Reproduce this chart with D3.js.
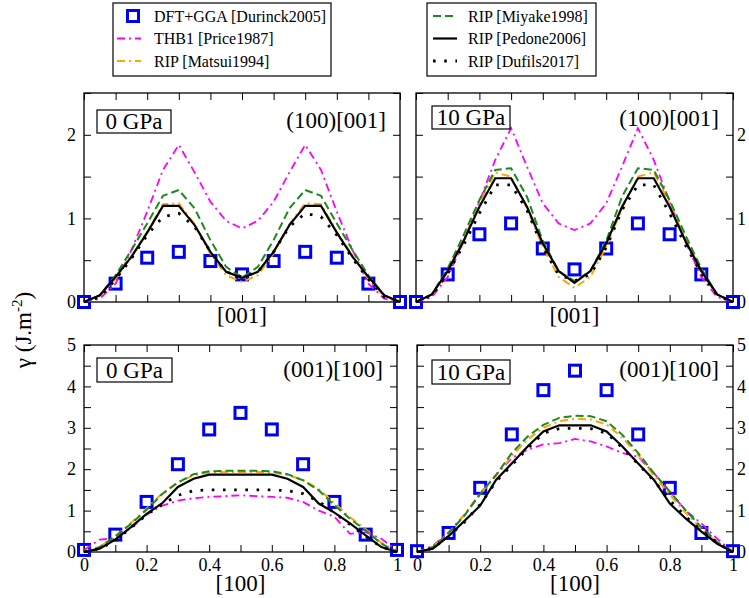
<!DOCTYPE html>
<html>
<head>
<meta charset="utf-8">
<script src="https://cdn.jsdelivr.net/npm/d3@7"></script>
<style>
body { margin: 0; background: #fff; }
svg { display: block; }
</style>
</head>
<body>
<div id="chart"></div>
<script>
// fine grid used by the potential curves, coarse grid for the DFT points
const xFine = [0, 0.05, 0.1, 0.15, 0.2, 0.25, 0.3, 0.35, 0.4, 0.45, 0.5, 0.55, 0.6, 0.65, 0.7, 0.75, 0.8, 0.85, 0.9, 0.95, 1];
const xDft = [0, 0.1, 0.2, 0.3, 0.4, 0.5, 0.6, 0.7, 0.8, 0.9, 1];

// ticks
const xTicks = [0, 0.1, 0.2, 0.3, 0.4, 0.5, 0.6, 0.7, 0.8, 0.9, 1];
const xTickLabels = [0, 0.2, 0.4, 0.6, 0.8, 1];
const yTicksTop = [0, 0.5, 1, 1.5, 2, 2.5];
const yLabelsTop = [0, 1, 2];
const yTicksBottom = [0, 0.5, 1, 1.5, 2, 2.5, 3, 3.5, 4, 4.5, 5];
const yLabelsBottom = [0, 1, 2, 3, 4, 5];

// (100)[001], 0 GPa
const tl_dft    = [0, 0.22, 0.53, 0.60, 0.49, 0.33, 0.49, 0.60, 0.53, 0.22, 0];
const tl_price  = [0, 0.04, 0.22, 0.62, 1.08, 1.58, 1.88, 1.55, 1.20, 0.97, 0.88, 0.97, 1.20, 1.55, 1.88, 1.58, 1.08, 0.62, 0.22, 0.04, 0];
const tl_matsui = [0, 0.07, 0.28, 0.55, 0.84, 1.17, 1.18, 0.93, 0.58, 0.32, 0.24, 0.32, 0.58, 0.93, 1.18, 1.17, 0.84, 0.55, 0.28, 0.07, 0];
const tl_miyake = [0, 0.08, 0.32, 0.62, 0.94, 1.27, 1.34, 1.12, 0.74, 0.42, 0.29, 0.42, 0.74, 1.12, 1.34, 1.27, 0.94, 0.62, 0.32, 0.08, 0];
const tl_pedone = [0, 0.08, 0.30, 0.54, 0.83, 1.15, 1.15, 0.92, 0.60, 0.36, 0.29, 0.36, 0.60, 0.92, 1.15, 1.15, 0.83, 0.54, 0.30, 0.08, 0];
const tl_dufils = [0, 0.06, 0.27, 0.52, 0.80, 1.02, 1.06, 0.90, 0.60, 0.36, 0.30, 0.36, 0.60, 0.90, 1.06, 1.02, 0.80, 0.52, 0.27, 0.06, 0];

// (100)[001], 10 GPa
const tr_dft    = [0, 0.33, 0.81, 0.94, 0.64, 0.39, 0.64, 0.94, 0.81, 0.33, 0];
const tr_price  = [0, 0.06, 0.30, 0.72, 1.20, 1.70, 2.08, 1.62, 1.18, 0.94, 0.86, 0.94, 1.18, 1.62, 2.08, 1.70, 1.20, 0.72, 0.30, 0.06, 0];
const tr_matsui = [0, 0.09, 0.38, 0.75, 1.18, 1.55, 1.50, 1.12, 0.66, 0.30, 0.17, 0.30, 0.66, 1.12, 1.50, 1.55, 1.18, 0.75, 0.38, 0.09, 0];
const tr_miyake = [0, 0.09, 0.40, 0.80, 1.22, 1.58, 1.60, 1.26, 0.73, 0.37, 0.25, 0.37, 0.73, 1.26, 1.60, 1.58, 1.22, 0.80, 0.40, 0.09, 0];
const tr_pedone = [0, 0.09, 0.37, 0.73, 1.14, 1.48, 1.48, 1.14, 0.70, 0.37, 0.23, 0.37, 0.70, 1.14, 1.48, 1.48, 1.14, 0.73, 0.37, 0.09, 0];
const tr_dufils = [0, 0.08, 0.34, 0.68, 1.06, 1.40, 1.40, 1.10, 0.65, 0.33, 0.25, 0.33, 0.65, 1.10, 1.40, 1.40, 1.06, 0.68, 0.34, 0.08, 0];

// (001)[100], 0 GPa
const bl_dft    = [0.05, 0.42, 1.21, 2.12, 2.96, 3.36, 2.96, 2.12, 1.21, 0.42, 0.05];
const bl_price  = [0.05, 0.30, 0.33, 0.58, 0.90, 1.12, 1.24, 1.30, 1.33, 1.35, 1.37, 1.35, 1.33, 1.31, 1.21, 1.00, 0.85, 0.44, 0.48, 0.32, 0.04];
const bl_matsui = [0, 0.12, 0.38, 0.70, 1.05, 1.42, 1.68, 1.85, 1.92, 1.93, 1.93, 1.93, 1.92, 1.86, 1.74, 1.52, 1.18, 0.84, 0.55, 0.22, 0];
const bl_miyake = [0, 0.12, 0.38, 0.68, 1.02, 1.40, 1.68, 1.88, 1.95, 1.96, 1.96, 1.96, 1.95, 1.88, 1.73, 1.49, 1.13, 0.80, 0.52, 0.20, 0];
const bl_pedone = [0, 0.08, 0.30, 0.60, 0.92, 1.18, 1.57, 1.77, 1.87, 1.87, 1.87, 1.87, 1.87, 1.77, 1.57, 1.17, 0.95, 0.69, 0.40, 0.12, 0];
const bl_dufils = [0, 0.08, 0.28, 0.58, 0.90, 1.15, 1.37, 1.48, 1.50, 1.50, 1.50, 1.50, 1.50, 1.48, 1.41, 1.22, 0.95, 0.66, 0.38, 0.12, 0];

// (001)[100], 10 GPa
const br_dft    = [0.02, 0.46, 1.55, 2.84, 3.91, 4.38, 3.91, 2.84, 1.55, 0.46, 0.02];
const br_price  = [0, 0.15, 0.48, 0.90, 1.42, 1.86, 2.27, 2.47, 2.60, 2.63, 2.73, 2.67, 2.55, 2.39, 2.30, 1.90, 1.46, 1.00, 0.69, 0.32, 0];
const br_matsui = [0, 0.12, 0.45, 0.90, 1.40, 1.84, 2.32, 2.72, 3.00, 3.16, 3.22, 3.20, 3.08, 2.76, 2.34, 1.84, 1.38, 0.95, 0.55, 0.22, 0];
const br_miyake = [0, 0.12, 0.45, 0.88, 1.40, 1.86, 2.39, 2.79, 3.07, 3.24, 3.29, 3.28, 3.16, 2.83, 2.39, 1.90, 1.46, 1.01, 0.60, 0.24, 0];
const br_pedone = [0, 0.08, 0.38, 0.75, 1.12, 1.74, 2.14, 2.55, 2.91, 3.06, 3.06, 3.06, 2.91, 2.55, 2.14, 1.74, 1.17, 0.81, 0.49, 0.20, 0];
const br_dufils = [0, 0.09, 0.38, 0.72, 1.15, 1.70, 2.10, 2.50, 2.87, 2.98, 2.99, 2.98, 2.87, 2.52, 2.12, 1.72, 1.25, 0.86, 0.52, 0.22, 0];

const seriesNames = ['DFT+GGA [Durinck2005]', 'THB1 [Price1987]', 'RIP [Matsui1994]', 'RIP [Miyake1998]', 'RIP [Pedone2006]', 'RIP [Dufils2017]'];

const width = 749;
const height = 598;
const serif = '"Liberation Serif", "Times New Roman", serif';
const blue = '#0000f0';

const lineStyles = {
    price:  {color: '#ff00ff', dash: '8,4,2,4', width: 1.8},
    matsui: {color: '#ffa500', dash: '8,4,2,4', width: 2},
    miyake: {color: '#1d8a1d', dash: '8,4', width: 2},
    pedone: {color: '#000000', dash: null, width: 2.2},
    dufils: {color: '#000000', dash: '2.6,8.6', width: 2.8}
};

const panels = [
    {x0: 84, x1: 400, y0: 93, y1: 302, ymax: 2.5, yTicks: yTicksTop, yLabels: yLabelsTop, side: 'left', xLab: false,
     title: '[001]', titleY: 323, gpa: '0 GPa', box: [97, 110, 74, 23], plane: '(100)[001]', planeY: 128,
     dft: tl_dft, price: tl_price, matsui: tl_matsui, miyake: tl_miyake, pedone: tl_pedone, dufils: tl_dufils},
    {x0: 416, x1: 733, y0: 93, y1: 302, ymax: 2.5, yTicks: yTicksTop, yLabels: yLabelsTop, side: 'right', xLab: false,
     title: '[001]', titleY: 323, gpa: '10 GPa', box: [432, 106, 78, 23], plane: '(100)[001]', planeY: 126,
     dft: tr_dft, price: tr_price, matsui: tr_matsui, miyake: tr_miyake, pedone: tr_pedone, dufils: tr_dufils},
    {x0: 84, x1: 397, y0: 345, y1: 552, ymax: 5, yTicks: yTicksBottom, yLabels: yLabelsBottom, side: 'left', xLab: true,
     title: '[100]', titleY: 591, gpa: '0 GPa', box: [97, 358, 75, 24], plane: '(001)[100]', planeY: 377,
     dft: bl_dft, price: bl_price, matsui: bl_matsui, miyake: bl_miyake, pedone: bl_pedone, dufils: bl_dufils},
    {x0: 417, x1: 733, y0: 345, y1: 552, ymax: 5, yTicks: yTicksBottom, yLabels: yLabelsBottom, side: 'right', xLab: true,
     title: '[100]', titleY: 591, gpa: '10 GPa', box: [432, 360, 78, 24], plane: '(001)[100]', planeY: 377,
     dft: br_dft, price: br_price, matsui: br_matsui, miyake: br_miyake, pedone: br_pedone, dufils: br_dufils}
];

const svg = d3.select('#chart')
    .append('svg')
        .attr('width', width)
        .attr('height', height);

const fmt = d3.format('~g');

const styleAxis = g => {
    g.select('.domain').remove();
    g.selectAll('.tick line').attr('stroke', '#000').attr('stroke-width', 1);
    g.selectAll('.tick text')
        .style('font-family', serif)
        .style('font-size', '18px')
        .attr('fill', '#000');
};

const drawPanel = p => {
    const x = d3.scaleLinear().domain([0, 1]).range([p.x0, p.x1]);
    const y = d3.scaleLinear().domain([0, p.ymax]).range([p.y1, p.y0]);
    const g = svg.append('g');

    const xFmt = d => (p.xLab && xTickLabels.includes(d)) ? fmt(d) : '';
    const yFmtOn = d => p.yLabels.includes(d) ? fmt(d) : '';

    g.append('g').attr('transform', `translate(0,${p.y1})`)
        .call(d3.axisBottom(x).tickValues(xTicks).tickSize(-7).tickPadding(6).tickFormat(xFmt))
        .call(styleAxis);
    g.append('g').attr('transform', `translate(0,${p.y0})`)
        .call(d3.axisTop(x).tickValues(xTicks).tickSize(-7).tickFormat(''))
        .call(styleAxis);
    g.append('g').attr('transform', `translate(${p.x0},0)`)
        .call(d3.axisLeft(y).tickValues(p.yTicks).tickSize(-7).tickPadding(8)
            .tickFormat(p.side === 'left' ? yFmtOn : ''))
        .call(styleAxis);
    g.append('g').attr('transform', `translate(${p.x1},0)`)
        .call(d3.axisRight(y).tickValues(p.yTicks).tickSize(-7).tickPadding(4)
            .tickFormat(p.side === 'right' ? yFmtOn : ''))
        .call(styleAxis);

    g.append('rect')
        .attr('x', p.x0).attr('y', p.y0)
        .attr('width', p.x1 - p.x0).attr('height', p.y1 - p.y0)
        .attr('fill', 'none')
        .attr('stroke', '#000')
        .attr('stroke-width', 1.3);

    // DFT squares
    g.selectAll('rect.dft')
        .data(p.dft.map((v, i) => ({x: xDft[i], y: v})))
        .join('rect')
            .attr('class', 'dft')
            .attr('x', d => x(d.x) - 5.5)
            .attr('y', d => y(d.y) - 5.5)
            .attr('width', 11)
            .attr('height', 11)
            .attr('fill', 'none')
            .attr('stroke', blue)
            .attr('stroke-width', 3);

    const line = d3.line().x(d => x(d.x)).y(d => y(d.y));
    ['price', 'matsui', 'miyake', 'pedone', 'dufils'].forEach(k => {
        const s = lineStyles[k];
        g.append('path')
            .datum(p[k].map((v, i) => ({x: xFine[i], y: v})))
            .attr('d', line)
            .attr('fill', 'none')
            .attr('stroke', s.color)
            .attr('stroke-width', s.width)
            .attr('stroke-dasharray', s.dash);
    });

    // pressure box
    g.append('rect')
        .attr('x', p.box[0]).attr('y', p.box[1])
        .attr('width', p.box[2]).attr('height', p.box[3])
        .attr('fill', '#fff')
        .attr('stroke', '#000')
        .attr('stroke-width', 1.2);
    g.append('text')
        .attr('x', p.box[0] + p.box[2] / 2)
        .attr('y', p.box[1] + p.box[3] - 4)
        .attr('text-anchor', 'middle')
        .style('font-family', serif)
        .style('font-size', '23px')
        .text(p.gpa);

    g.append('text')
        .attr('x', p.x1 - 14)
        .attr('y', p.planeY)
        .attr('text-anchor', 'end')
        .style('font-family', serif)
        .style('font-size', '23px')
        .text(p.plane);

    g.append('text')
        .attr('x', (p.x0 + p.x1) / 2)
        .attr('y', p.titleY)
        .attr('text-anchor', 'middle')
        .style('font-family', serif)
        .style('font-size', '23px')
        .text(p.title);
};

panels.forEach(drawPanel);

// y axis title
const yt = svg.append('text')
    .attr('transform', 'translate(31,330) rotate(-90)')
    .attr('text-anchor', 'middle')
    .style('font-family', serif)
    .style('font-size', '23px');
yt.append('tspan').text('\u03b3 (J.m');
yt.append('tspan').attr('dy', -9).style('font-size', '15px').text('-2');
yt.append('tspan').attr('dy', 9).text(')');

// legends
const legendRows = [16, 38.5, 61];
svg.append('rect').attr('x', 113).attr('y', 3).attr('width', 218).attr('height', 73)
    .attr('fill', '#fff').attr('stroke', '#000').attr('stroke-width', 1.2);
svg.append('rect').attr('x', 427).attr('y', 3).attr('width', 169).attr('height', 73)
    .attr('fill', '#fff').attr('stroke', '#000').attr('stroke-width', 1.2);

svg.append('rect')
    .attr('x', 133 - 5.5).attr('y', legendRows[0] - 5.5)
    .attr('width', 11).attr('height', 11)
    .attr('fill', 'none').attr('stroke', blue).attr('stroke-width', 3);

const legendLines = [
    {key: 'price', x0: 117, x1: 141, row: 1, tx: 154, name: seriesNames[1]},
    {key: 'matsui', x0: 117, x1: 141, row: 2, tx: 154, name: seriesNames[2]},
    {key: 'miyake', x0: 433, x1: 457, row: 0, tx: 468, name: seriesNames[3]},
    {key: 'pedone', x0: 433, x1: 457, row: 1, tx: 468, name: seriesNames[4]},
    {key: 'dufils', x0: 433, x1: 457, row: 2, tx: 468, name: seriesNames[5]}
];

legendLines.forEach(l => {
    const s = lineStyles[l.key];
    svg.append('line')
        .attr('x1', l.x0).attr('x2', l.x1)
        .attr('y1', legendRows[l.row]).attr('y2', legendRows[l.row])
        .attr('stroke', s.color)
        .attr('stroke-width', s.width)
        .attr('stroke-dasharray', s.dash);
});

const legendTexts = [{tx: 154, row: 0, name: seriesNames[0]}].concat(legendLines);
legendTexts.forEach(l => {
    svg.append('text')
        .attr('x', l.tx)
        .attr('y', legendRows[l.row] + 5.5)
        .style('font-family', serif)
        .style('font-size', '16px')
        .text(l.name);
});
</script>
</body>
</html>
